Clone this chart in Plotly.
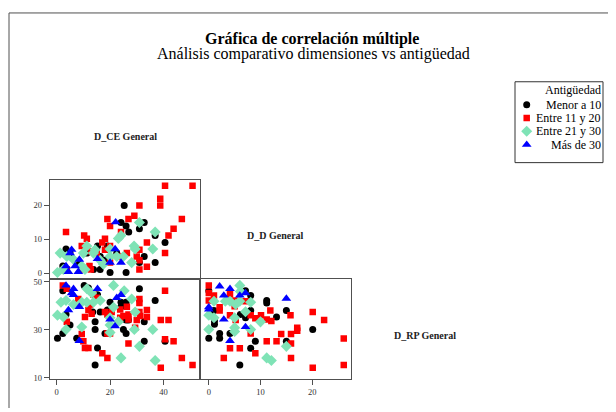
import plotly.graph_objects as go

# page body has an 8px margin, so the figure is drawn 8px smaller and offset
OX, OY = 8, 8
W, H = 616 - OX, 412 - OY

groups = ["Menor a 10", "Entre 11 y 20", "Entre 21 y 30", "Más de 30"]
legend_title = "Antigüedad"
colors = ["#000000", "#ff0000", "#7fe3b6", "#0000ff"]
symbols = ["circle", "square", "diamond", "triangle-up"]
sizes = [7, 6.5, 8.5, 8.5]

var_labels = ["D_CE General", "D_D General", "D_RP General"]

# Panel: D_CE (x) vs D_D (y)
ce_d_menor = [(25.3, 20), (24.1, 15), (26, 14), (32.8, 15), (31, 13.2), (27, 12.2), (36.9, 11.2),
              (40.6, 9.1), (32.8, 5), (31, 3.2), (36.9, 3.2), (26, 0.3), (20, 0.3), (16.3, 1.2),
              (15.3, 8.1), (19, 8.1), (3.5, 7.2), (5, 6), (16.3, 5), (18.1, 3.9), (11.3, 6),
              (2.3, 2.2), (3.1, 1.2), (8.1, 3.2), (13.8, 1.2), (22.5, 6)]
ce_d_e11 = [(40.6, 25.8), (50.9, 25.8), (38.8, 22), (38.8, 20), (46.9, 16), (31, 20), (29.1, 17),
            (26.9, 16), (19, 16), (20, 14), (3.5, 12.2), (10.3, 11.2), (11.3, 10.2), (24.1, 12.2),
            (43.8, 13.2), (41.9, 11.2), (33.8, 9.1), (18.1, 10.2), (17.1, 9.1), (9.4, 8.1),
            (20, 8.1), (40.6, 6), (26.3, 6), (31, 7), (30, 5), (31, 3.9), (33.8, 2), (31, 1.2),
            (23.8, 5), (20, 3.2), (12.3, 2.2), (12.8, 1.2), (9.4, 1.2), (18.1, 7), (13, 6.5),
            (15, 6), (3.8, 1.2)]
ce_d_e21 = [(0.3, 0.3), (1.3, 6), (3.8, 5), (2.5, 1.2), (10, 6), (11.3, 8.1), (13.8, 6), (14.4, 7),
            (6.3, 4.1), (9.4, 2.2), (10.6, 1.2), (20, 7.2), (20, 5), (22.5, 5), (23.1, 10.3),
            (24.1, 11.2), (31, 15), (29, 8.1), (29.4, 7.2), (28.1, 3.2), (36.9, 12.2), (36, 7.2),
            (25, 5), (17.5, 2.7), (16.3, 3.9)]
ce_d_mas30 = [(5.6, 7), (5, 6), (3.5, 2.2), (6.9, 2.2), (8.5, 4.1), (8.1, 0.5), (4.4, 0.5),
              (15.3, 4.3), (20, 3.2), (24.1, 3.2), (21.9, 7.2), (22.1, 15.1)]

# Panel: D_CE (x) vs D_RP (y)
ce_rp_menor = [(2.3, 46.2), (10.3, 48.4), (11.9, 47.3), (15.3, 44.5), (31, 47), (36.9, 42.1),
               (20, 41.4), (24.1, 41.4), (26, 41.4), (24.1, 39.5), (19, 38.1), (16.3, 37.3),
               (13.5, 37.3), (3.5, 36.3), (5, 31.9), (14.4, 33.3), (14.4, 30), (18.1, 28.4),
               (25.6, 35.2), (26, 34), (26.9, 34), (25, 30), (26, 28.4), (32.8, 33.3), (32.8, 25.1),
               (40.6, 25.1), (0.3, 26.4), (2.3, 28.4), (7.5, 26.4), (15.3, 22.3), (14.4, 15.2)]
ce_rp_e11 = [(2.3, 48.4), (3.8, 47), (40.6, 46.2), (8.1, 42.7), (13.8, 44.5), (15, 43.2),
             (12.5, 40.4), (11.9, 38.1), (10.6, 35.2), (13.1, 36.6), (18.1, 37.3), (19, 36.3),
             (20.6, 37.3), (23.8, 38.4), (26.3, 39.5), (31, 42.7), (31, 41.1), (33.8, 38.1),
             (33.8, 35.2), (31, 37.3), (31.3, 35.6), (30, 34), (26.9, 36.3), (26.9, 34.2),
             (23.8, 34.9), (25, 35.6), (39, 34), (41.9, 34), (40.6, 26), (43.8, 25.1), (26.9, 24.2),
             (10.6, 22.3), (11.9, 22.3), (10, 25.1), (9.4, 28.1), (3.8, 33.2), (17.1, 20.1),
             (19, 18.2), (19, 28.4), (20, 28.4), (29.4, 30.8), (46.9, 18.2), (50.9, 15.2), (39, 14.1)]
ce_rp_e21 = [(21.3, 48.4), (25.3, 46.2), (11.3, 47), (13.1, 45.2), (16.3, 42.1), (1.6, 41.4),
             (3.5, 42.1), (6.3, 40.4), (9.4, 41.4), (11.3, 41.4), (13.8, 41.4), (0.3, 36),
             (2.5, 35.2), (3.5, 30), (9.4, 31.1), (20, 34.9), (21.3, 39.3), (23.1, 33.3), (20, 31.9),
             (20, 28.8), (28.1, 42.7), (29.4, 37.3), (29.1, 30), (36, 30), (31, 23), (24.1, 18.2),
             (36.9, 17.1)]
ce_rp_mas30 = [(3.5, 48.4), (6.3, 47), (5.6, 45.2), (6.3, 44.5), (15.3, 47), (24.1, 44.5),
               (22.5, 43.2), (8.5, 39.5), (4.4, 38.1), (20, 34.2), (21.9, 31.4), (8.5, 25.3)]

# Panel: D_D (x) vs D_RP (y)
d_rp_menor = [(0, 46.2), (0, 26.4), (1.1, 33.6), (1.1, 32.2), (2.1, 28.4), (2.1, 26.4), (4.1, 28.4),
              (7.1, 46.2), (8.1, 44.2), (11.2, 42.1), (11.2, 41.1), (8.1, 37.9), (6.1, 36.3),
              (7.1, 34.9), (13.1, 35.2), (15, 37.9), (20.1, 30), (9, 25.1), (8.1, 22.2), (15, 25.1),
              (6, 15.2), (1, 37.9)]
d_rp_e11 = [(0, 48.4), (0, 45.2), (0, 42.1), (1, 44.2), (2.1, 39.3), (2.1, 37.9), (4.1, 44.8),
            (5, 42.1), (5, 39.7), (4.1, 36), (5.2, 34), (7.1, 41.8), (8.1, 36), (9, 34.7),
            (10.1, 36), (11.2, 34.2), (11.9, 37.9), (12.1, 33.6), (14, 28.1), (15.8, 36),
            (15.9, 28.1), (17.1, 30.8), (17.1, 29.5), (20.1, 37.3), (22.3, 34), (8.1, 28.4),
            (11.2, 25.1), (13.1, 25.1), (15.9, 24.2), (4.1, 22.2), (6, 22.2), (9, 20.1), (2.9, 18.2),
            (15.9, 18.2), (20.1, 14.1), (26.1, 26.3), (26.1, 15.2)]
d_rp_e21 = [(6, 48.4), (0, 36), (0, 30), (1, 41.8), (1, 34.9), (3.2, 41.8), (4.1, 41.8), (5.2, 40.4),
            (6, 41.8), (8.1, 41.4), (7.1, 37.4), (5, 34.9), (5, 30.8), (5, 29.2), (8.1, 30),
            (10, 33.2), (11.2, 18.2), (12.1, 17.1), (15, 23), (6.1, 45.9)]
d_rp_mas30 = [(0, 39.3), (0, 38.4), (2.1, 48), (2.9, 44.2), (4.1, 47), (6, 44.2), (7.1, 45.2),
              (2.9, 34.2), (7.1, 31.1), (4.1, 25.3), (15, 42.9)]

panels = [
    ("x", "y", [ce_d_menor, ce_d_e11, ce_d_e21, ce_d_mas30]),
    ("x2", "y2", [ce_rp_menor, ce_rp_e11, ce_rp_e21, ce_rp_mas30]),
    ("x3", "y3", [d_rp_menor, d_rp_e11, d_rp_e21, d_rp_mas30]),
]

fig = go.Figure()
for pi, (xa, ya, series) in enumerate(panels):
    for gi, pts in enumerate(series):
        fig.add_trace(go.Scatter(
            x=[p[0] for p in pts], y=[p[1] for p in pts], xaxis=xa, yaxis=ya,
            mode="markers", name=groups[gi], showlegend=False,
            marker=dict(color=colors[gi], symbol=symbols[gi], size=sizes[gi], line=dict(width=0)),
        ))

# legend keys: one marker per group, placed by group index on a hidden axis
for gi, g in enumerate(groups):
    fig.add_trace(go.Scatter(
        x=[11.7], y=[gi], xaxis="x4", yaxis="y4", mode="markers", showlegend=False,
        hoverinfo="skip",
        marker=dict(color=colors[gi], symbol=symbols[gi], size=sizes[gi], line=dict(width=0)),
    ))


def px(x):
    return (x - OX) / W


def py(y):
    return 1 - (y - OY) / H


LC = "#505050"
tickfont = dict(family="Liberation Serif", size=8.5, color="#333333")
common = dict(showline=True, mirror=True, linecolor=LC, linewidth=1.4, showgrid=False,
              zeroline=False, ticks="outside", ticklen=5, tickcolor=LC, tickwidth=1,
              tickfont=tickfont)
hidden = dict(visible=False, showgrid=False, zeroline=False, fixedrange=True)

ce_range = [-2.5, 53.7]
d_range = [-1.7, 27.5]
rp_range = [9.6, 50.95]

colA = [px(50), px(200)]
colB = [px(200), px(351)]
row2 = [py(281), py(180)]
row3 = [py(382), py(281)]

fig.update_layout(
    width=W, height=H, margin=dict(l=0, r=0, t=0, b=0),
    paper_bgcolor="white", plot_bgcolor="white",
    font=dict(family="Liberation Serif", color="#000000"),
    showlegend=False,
    xaxis=dict(domain=colA, range=ce_range, anchor="y", showticklabels=False,
               **{**common, "ticks": ""}),
    yaxis=dict(domain=row2, range=d_range, anchor="x", tickvals=[0, 10, 20], **common),
    xaxis2=dict(domain=colA, range=ce_range, anchor="y2", tickvals=[0, 20, 40], **common),
    yaxis2=dict(domain=row3, range=rp_range, anchor="x2", tickvals=[10, 30, 50], **common),
    xaxis3=dict(domain=colB, range=d_range, anchor="y3", tickvals=[0, 10, 20], **common),
    yaxis3=dict(domain=row3, range=rp_range, anchor="x3", showticklabels=False,
                **{**common, "ticks": ""}),
    xaxis4=dict(domain=[px(515), px(603)], range=[0, 88], anchor="y4", **hidden),
    yaxis4=dict(domain=[py(162.3), py(80)], range=[4.35, -1.72], anchor="x4", **hidden),
)

annotations = [
    dict(text="<b>Gráfica de correlación múltiple</b>", x=px(312), y=py(36),
         font=dict(family="Liberation Serif", size=16, color="#000000")),
    dict(text="Análisis comparativo dimensiones vs antigüedad", x=px(313), y=py(52),
         font=dict(family="Liberation Serif", size=16, color="#000000")),
    dict(text="<b>" + var_labels[0] + "</b>", x=px(125), y=py(135.5),
         font=dict(family="Liberation Serif", size=10, color="#222222")),
    dict(text="<b>" + var_labels[1] + "</b>", x=px(275), y=py(236),
         font=dict(family="Liberation Serif", size=10, color="#222222")),
    dict(text="<b>" + var_labels[2] + "</b>", x=px(425), y=py(338),
         font=dict(family="Liberation Serif", size=10, color="#222222")),
]
for a in annotations:
    a.update(xref="paper", yref="paper", showarrow=False, xanchor="center", yanchor="middle")

# legend texts (right-aligned, as in the reference)
annotations.append(dict(text=legend_title, xref="x4", yref="y4", x=87.5, y=-1.1,
                        xanchor="right", yanchor="middle", showarrow=False,
                        font=dict(family="Liberation Serif", size=12, color="#000000")))
for gi, g in enumerate(groups):
    annotations.append(dict(text=g, xref="x4", yref="y4", x=87.5, y=gi,
                            xanchor="right", yanchor="middle", showarrow=False,
                            font=dict(family="Liberation Serif", size=12, color="#000000")))
fig.update_layout(annotations=annotations)

fig.update_layout(shapes=[
    dict(type="line", xref="paper", yref="paper", x0=px(9), x1=1.0, y0=py(10), y1=py(10),
         line=dict(color=LC, width=1)),
    dict(type="line", xref="paper", yref="paper", x0=px(9), x1=px(9), y0=py(10), y1=0,
         line=dict(color=LC, width=1)),
    dict(type="rect", xref="paper", yref="paper", x0=px(515), x1=px(603), y0=py(162.3),
         y1=py(80), line=dict(color="#333333", width=1), layer="below"),
])

fig.write_html("out.html")
